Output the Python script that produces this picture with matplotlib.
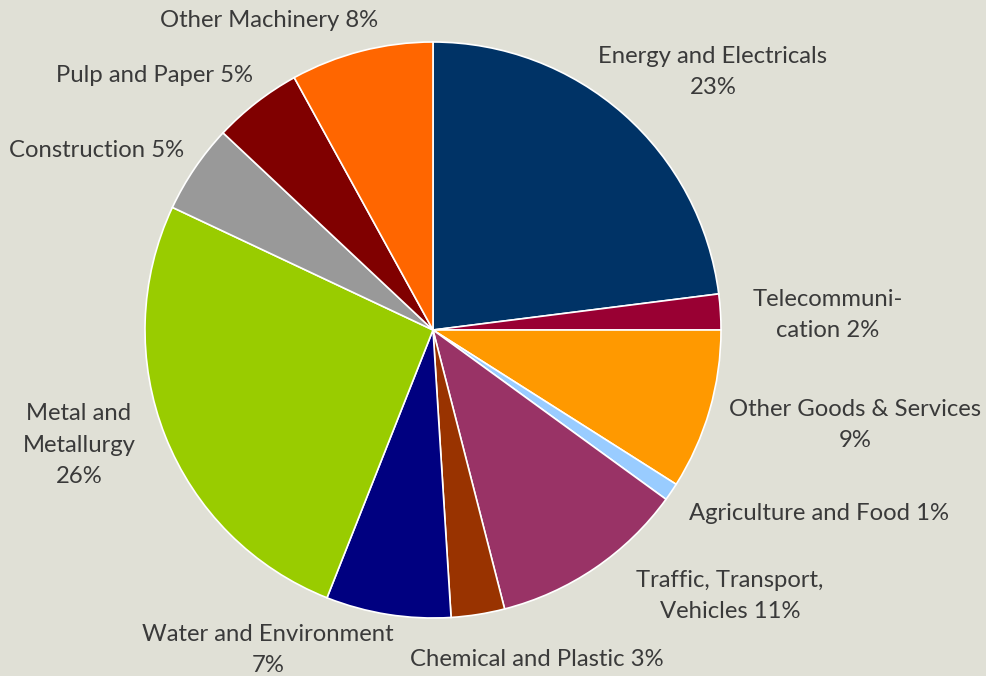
import matplotlib
matplotlib.use("Agg")
import matplotlib.pyplot as plt

sectors = ["Energy and Electricals", "Telecommunication", "Other Goods & Services",
           "Agriculture and Food", "Traffic, Transport, Vehicles", "Chemical and Plastic",
           "Water and Environment", "Metal and Metallurgy", "Construction",
           "Pulp and Paper", "Other Machinery"]
shares = [23, 2, 9, 1, 11, 3, 7, 26, 5, 5, 8]
label_texts = ["Energy and Electricals\n23%", "Telecommuni-\ncation 2%",
               "Other Goods & Services\n9%", "Agriculture and Food 1%",
               "Traffic, Transport,\nVehicles 11%", "Chemical and Plastic 3%",
               "Water and Environment\n7%", "Metal and\nMetallurgy\n26%",
               "Construction 5%", "Pulp and Paper 5%", "Other Machinery 8%"]
colours = ["#003366", "#990033", "#FF9900", "#99CCFF", "#993366", "#993300",
           "#000080", "#99CC00", "#999999", "#800000", "#FF6600"]

# label centres in pixels (x from left, y from top)
label_px = [(713, 72), (828, 315), (855, 425), (819, 514), (730, 596), (537, 660),
            (268, 650), (79, 445), (97, 150), (154, 75), (269, 20)]

bg = "#E0E0D6"
W, H = 986, 676
cx, cy, R = 433, 330, 288

fig = plt.figure(figsize=(W / 100, H / 100), dpi=100, facecolor=bg)
ax = fig.add_axes([0, 0, 1, 1])
ax.set_facecolor(bg)
ax.pie(shares, colors=colours, startangle=90, counterclock=False,
       radius=1, center=(0, 0),
       wedgeprops=dict(edgecolor="white", linewidth=1.2))
ax.set_xlim(-cx / R, (W - cx) / R)
ax.set_ylim(-(H - cy) / R, cy / R)
ax.set_aspect("equal")
ax.axis("off")

for txt, (px, py) in zip(label_texts, label_px):
    ax.text((px - cx) / R, (cy - py) / R, txt, ha="center", va="center",
            fontsize=17.2, color="#3a3a3a", family=["Lato", "DejaVu Sans"],
            linespacing=1.6)

fig.savefig("out.png", dpi=100, facecolor=bg)
